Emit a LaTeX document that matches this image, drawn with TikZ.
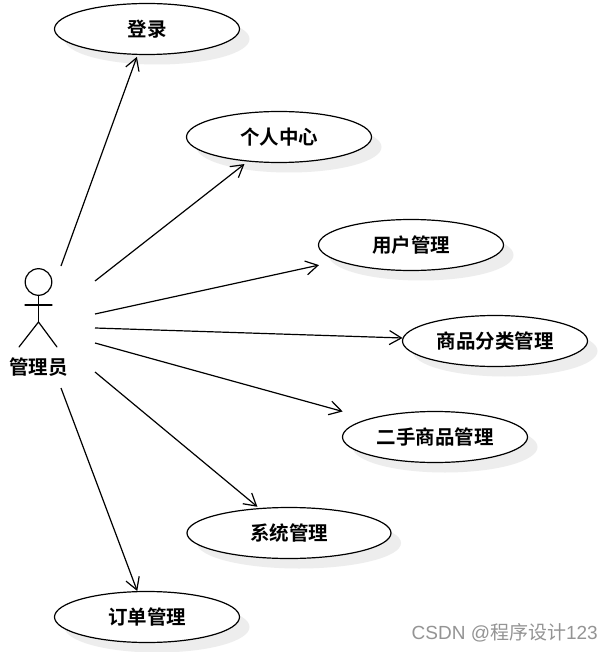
\documentclass[tikz,border=0pt]{standalone}
\usepackage{fontspec}
\setmainfont{Noto Sans CJK SC}[BoldFont={Noto Sans CJK SC Bold}]
\newfontfamily\wmfont{Noto Sans CJK SC}
\newfontfamily\wmlatin{Liberation Sans}
\usetikzlibrary{shapes.geometric,shadows,arrows.meta}
\tikzset{
  usecase/.style={ellipse,draw=black,fill=white,line width=1.2pt,minimum width=185pt,minimum height=51pt,inner sep=0pt,
    font=\fontsize{19.5}{19.5}\selectfont\bfseries,
    general shadow={shadow xshift=10pt,shadow yshift=-10pt,fill=black!7,draw=none}},
  assoc/.style={line width=1.2pt,-{Straight Barb[length=12pt,width=14pt,line width=1.2pt]}},
  stick/.style={line width=1.2pt,line cap=round},
  actorlabel/.style={inner sep=0pt,font=\fontsize{19.5}{19.5}\selectfont\bfseries},
  watermark/.style={inner sep=0pt,text=black!42,font=\fontsize{19}{19}\selectfont}
}
\begin{document}
\begin{tikzpicture}[x=1pt,y=-1pt]
\useasboundingbox (0,0) rectangle (614,652);
\fill[white] (0,0) rectangle (614,652);
\node[usecase] (u1) at (147,29) {登录};
\node[usecase] (u2) at (279,137) {个人中心};
\node[usecase] (u3) at (411,245) {用户管理};
\node[usecase] (u4) at (495,341) {商品分类管理};
\node[usecase] (u5) at (435,437) {二手商品管理};
\node[usecase,minimum width=204pt] (u6) at (289,533) {系统管理};
\node[usecase] (u7) at (147,617) {订单管理};
% actor
\node[circle,draw=black,line width=1.2pt,minimum size=26.6pt,inner sep=0pt] (head) at (38.5,282) {};
\coordinate (hip) at (38.5,322);
\coordinate (armL) at (25,305);
\coordinate (armR) at (52,305);
\coordinate (legL) at (19,347);
\coordinate (legR) at (57,347);
\draw[stick] (head.south) -- (hip);
\draw[stick] (armL) -- (armR);
\draw[stick] (legL) -- (hip) -- (legR);
\node[actorlabel] (actor) at (38.5,367) {管理员};
% connector starts
\coordinate (s1) at (61,266);
\coordinate (s2) at (95,281);
\coordinate (s3) at (95,314);
\coordinate (s4) at (95,328);
\coordinate (s5) at (95,343);
\coordinate (s6) at (95,372);
\coordinate (s7) at (61,388);
\draw[assoc,shorten >=2pt] (s1) -- (u1);
\draw[assoc,shorten >=4pt] (s2) -- (u2);
\draw[assoc,shorten >=19pt] (s3) -- (u3);
\draw[assoc] (s4) -- (u4);
\draw[assoc,shorten >=27pt] (s5) -- (u5);
\draw[assoc,shorten >=2pt] (s6) -- (u6);
\draw[assoc] (s7) -- (u7);
\node[watermark,anchor=east] (wm) at (598,633) {{\wmlatin CSDN @}{\wmfont 程序设计}{\wmlatin 123}};
\end{tikzpicture}
\end{document}
